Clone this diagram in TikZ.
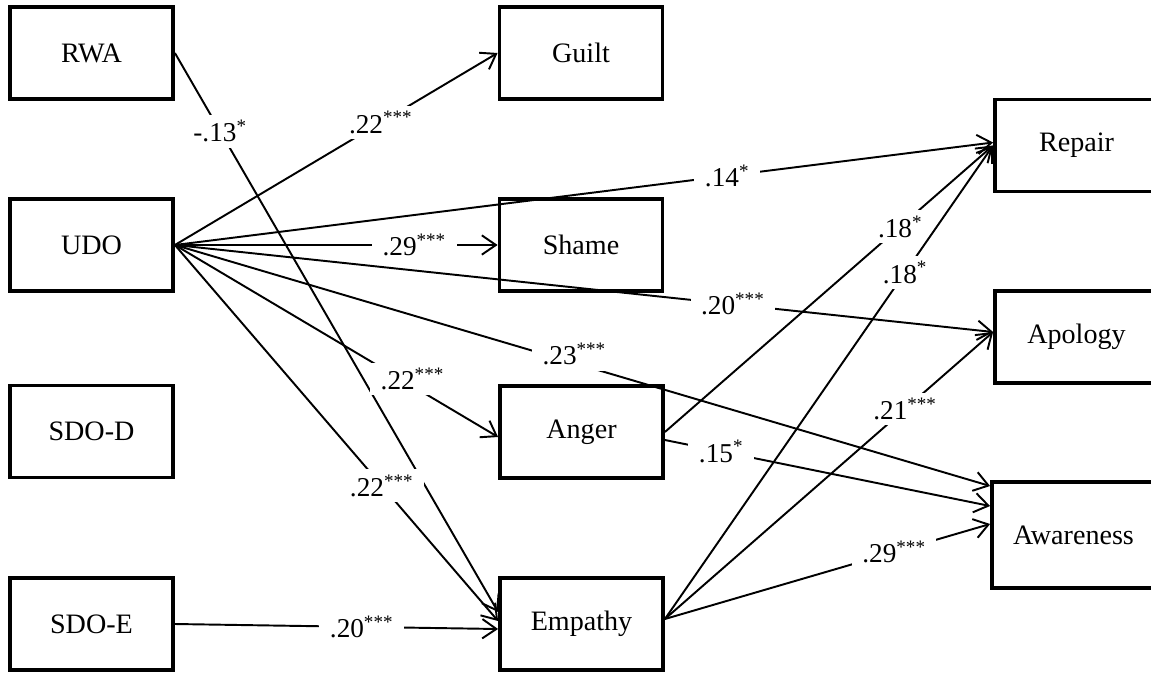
\documentclass[tikz,border=0pt]{standalone}
\usepackage{fontspec}
\setmainfont{Liberation Serif}
\usetikzlibrary{arrows.meta,calc}
\begin{document}
\begin{tikzpicture}[x=0.02cm,y=-0.02cm,
  varbox/.style={draw,line width=2.2pt,minimum width=3.26cm,minimum height=1.84cm,inner sep=0pt,font=\fontsize{16}{19}\selectfont},
  conn/.style={line width=1.1pt,-{Straight Barb[length=8pt,width=11pt,line width=1.1pt]}},
  lbl/.style={fill=white,inner xsep=6pt,inner ysep=3pt,font=\fontsize{15.5}{18}\selectfont},
]
\useasboundingbox (0,0) rectangle (1151,672);
% left column
\node[varbox] (rwa) at (91.5,53) {RWA};
\node[varbox] (udo) at (91.5,245) {UDO};
\node[varbox] (sdod) at (91.5,431.5) {SDO-D};
\node[varbox] (sdoe) at (91.5,624) {SDO-E};
% middle column
\node[varbox] (guilt) at (581,53) {Guilt};
\node[varbox] (shame) at (581,245) {Shame};
\node[varbox] (anger) at (581.5,432) {Anger};
\node[varbox] (emp) at (581.5,624) {Empathy};
% right column
\node[varbox] (repair) at (1076.5,145.5) {Repair};
\node[varbox] (apology) at (1076.5,337) {Apology};
\node[varbox,minimum height=2.12cm] (aware) at (1073.5,535) {Awareness};
% connectors
\draw[conn] (rwa.east) -- node[lbl,pos=0.14] {-.13\textsuperscript{*}} ($(emp.west)+(0,-12)$);
\draw[conn] (udo.east) -- node[lbl,pos=0.638] {.22\textsuperscript{***}} (guilt.west);
\draw[conn] (udo.east) -- node[lbl,pos=0.675] {.14\textsuperscript{*}} ($(repair.west)+(0,-3)$);
\draw[conn] (udo.east) -- node[lbl,pos=0.742] {.29\textsuperscript{***}} (shame.west);
\draw[conn] (udo.east) -- node[lbl,pos=0.682] {.20\textsuperscript{***}} ($(apology.west)+(0,-5)$);
\draw[conn] (udo.east) -- node[lbl,pos=0.49,yshift=5pt] {.23\textsuperscript{***}} ($(aware.west)+(0,-49)$);
\draw[conn] (udo.east) -- node[lbl,pos=0.735,yshift=4pt] {.22\textsuperscript{***}} ($(anger.west)+(0,5)$);
\draw[conn] (udo.east) -- node[lbl,pos=0.64] {.22\textsuperscript{***}} ($(emp.west)+(0,-3)$);
\draw[conn] (sdoe.east) -- node[lbl,pos=0.578] {.20\textsuperscript{***}} ($(emp.west)+(0,5)$);
\draw[conn] (anger.east) -- node[lbl,pos=0.717] {.18\textsuperscript{*}} (repair.west);
\draw[conn] ($(emp.east)+(0,-5)$) -- node[lbl,pos=0.732] {.18\textsuperscript{*}} (repair.west);
\draw[conn] ($(emp.east)+(0,-5)$) -- node[lbl,pos=0.732] {.21\textsuperscript{***}} ($(apology.west)+(0,-5)$);
\draw[conn] ($(anger.east)+(0,8)$) -- node[lbl,pos=0.173] {.15\textsuperscript{*}} ($(aware.west)+(0,-29)$);
\draw[conn] ($(emp.east)+(0,-5)$) -- node[lbl,pos=0.705] {.29\textsuperscript{***}} ($(aware.west)+(0,-11)$);
\end{tikzpicture}
\end{document}
